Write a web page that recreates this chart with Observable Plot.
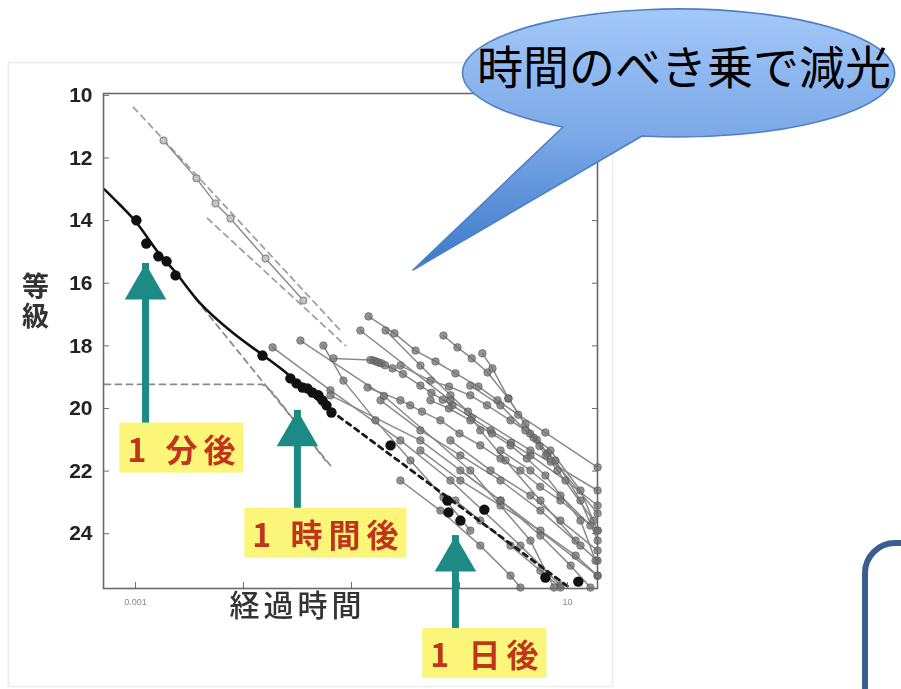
<!DOCTYPE html>
<html lang="ja">
<head>
<meta charset="utf-8">
<script src="https://cdn.jsdelivr.net/npm/d3@7"></script>
<script src="https://cdn.jsdelivr.net/npm/@observablehq/plot@0.6"></script>
<style>
  html, body { margin: 0; padding: 0; background: #fff; }
  #stage { position: relative; width: 901px; height: 689px; overflow: hidden; }
  #stage > svg { position: absolute; left: 0; top: 0; }
</style>
</head>
<body>
<div id="stage">
  <svg id="back" width="901" height="689">
    <rect x="8.5" y="62.5" width="604" height="624" fill="none" stroke="#ececec" stroke-width="1.5"/>
  </svg>
  <svg id="deco" width="901" height="689" style="pointer-events:none">
    <defs>
      <linearGradient id="bubbleFill" x1="0" y1="0" x2="0" y2="1">
        <stop offset="0" stop-color="#a4c8f9"/>
        <stop offset="0.5" stop-color="#7aa7e7"/>
        <stop offset="1" stop-color="#3a78c9"/>
      </linearGradient>
    </defs>
    <path d="M563,127 L413,270 L642,136 A216,64 0 1,0 563,127 Z"
          fill="url(#bubbleFill)" stroke="#4f80c4" stroke-width="1.6" stroke-linejoin="round"/>
    <text x="684" y="84" font-size="46" text-anchor="middle" fill="#000"
          font-family="'Noto Sans CJK JP', 'Noto Sans', sans-serif">時間のべき乗で減光</text>
    <rect x="865" y="543" width="120" height="300" rx="30" ry="30" fill="none" stroke="#3a5f8e" stroke-width="6"/>
  </svg>
</div>
<script>
// Elapsed time in days (log axis) against brightness in magnitudes (fainter = lower).
const yTicks = [10, 12, 14, 16, 18, 20, 22, 24];
const xTickLabels = [0.001, 10];
const xDecades = [0.001, 0.01, 0.1, 1, 10];

// Main burst: smooth early curve, its late power-law decay, and the measurements
const mainFit = [[0.000516, 13.00], [0.000726, 13.51], [0.00102, 14.06], [0.00163, 15.02], [0.00235, 15.65],
  [0.00400, 16.65], [0.00808, 17.60], [0.01436, 18.24], [0.02345, 18.79], [0.0337, 19.27], [0.0639, 20.06]];
const mainDecay = [[0.0639, 20.06], [10.7, 25.75]];
const mainPoints = [[0.00102, 13.99], [0.00126, 14.73], [0.00163, 15.14], [0.00194, 15.30], [0.00235, 15.75],
  [0.0150, 18.31], [0.0272, 19.04], [0.0310, 19.20], [0.0352, 19.33], [0.0391, 19.36], [0.0435, 19.49],
  [0.0495, 19.58], [0.0539, 19.74], [0.0587, 19.90], [0.0653, 20.13], [0.230, 21.18],
  [0.774, 22.94], [0.791, 23.32], [1.02, 23.58], [1.70, 23.23], [6.25, 25.40], [12.6, 25.53]];

// Dashed model curves
const earlyPowerLaw = [[0.00359, 16.49], [0.0639, 21.82]];
const plateauModel = [[0.000516, 19.23], [0.0150, 19.23], [0.0186, 19.49], [0.0574, 21.66]];
const brightModelA = [[0.000958, 10.38], [0.0791, 17.51]];
const brightModelB = [[0.00464, 13.93], [0.0880, 17.99]];

// Brightest comparison afterglow
const brightTrack = [[0.00182, 11.44], [0.00367, 12.65], [0.00551, 13.45], [0.00758, 13.93], [0.0160, 15.21], [0.0359, 16.55]];

// Other afterglows
const trackA = [[0.144, 17.06], [0.25, 17.6], [0.392, 18.15], [0.6, 18.5], [0.918, 18.88], [1.5, 19.3], [2.25, 19.74],
  [3.5, 20.2], [6.25, 20.77], [19.0, 21.88]];
const trackB = [[0.711, 17.67], [0.958, 18.05], [1.3, 18.4], [1.82, 18.85], [2.84, 19.68], [4.08, 20.5], [5.2, 21.0],
  [6.53, 21.44], [19.0, 23.35]];
const trackC = [[1.63, 18.24], [2.02, 18.72], [2.84, 19.68], [4.84, 20.93], [5.5, 21.2], [6.3, 21.5], [7.0, 21.7],
  [8.08, 21.98], [17.4, 23.58]];
const trackD = [[0.0681, 18.40], [0.150, 18.45], [0.160, 18.47], [0.170, 18.50], [0.178, 18.53], [0.190, 18.56], [0.205, 18.62],
  [0.240, 18.72], [0.30, 18.9], [0.435, 19.27], [0.55, 19.5], [0.70, 19.72], [0.861, 19.90], [1.3, 20.3], [1.94, 20.70],
  [3.0, 21.1], [4.54, 21.50], [9.58, 22.30], [19.0, 23.10]];
const trackE = [[0.0550, 17.99], [0.0843, 19.11], [0.167, 20.38], [0.352, 21.66], [0.711, 22.84], [1.26, 23.90]];
const trackF = [[0.0186, 18.05], [0.0639, 19.42], [0.284, 21.02], [0.826, 22.30], [3.67, 24.38], [8.61, 25.65]];
const trackG = [[0.141, 19.33], [0.284, 19.74], [0.35, 19.9], [0.45, 20.1], [0.666, 20.38], [1.0, 20.8], [1.56, 21.18],
  [2.4, 21.6], [3.67, 21.98], [5.6, 22.5], [8.61, 22.94], [19.0, 23.90]];
const trackH = [[0.207, 17.51], [0.435, 18.63], [0.826, 19.58], [1.2, 20.1], [1.56, 20.70], [2.67, 21.66], [5.62, 22.94],
  [11.9, 24.22]];
const trackI = [[0.284, 18.63], [0.539, 19.11], [0.8, 19.3], [1.26, 19.58], [1.8, 19.9], [2.97, 20.38], [4.5, 20.8],
  [6.96, 21.34], [13.2, 22.62], [19.0, 23.90]];
const trackJ = [[0.186, 19.74], [0.435, 20.70], [1.02, 21.50], [2.40, 22.30], [5.62, 23.26], [13.2, 24.38], [19.0, 24.86]];
const trackK = [[0.435, 21.34], [1.02, 22.30], [2.40, 23.10], [5.62, 23.90], [11.9, 24.70], [19.0, 25.34]];
const trackL = [[0.539, 19.74], [0.8, 20.0], [1.26, 20.38], [2.0, 20.8], [2.97, 21.18], [4.2, 21.6], [6.25, 22.14],
  [13.2, 23.58], [18.2, 24.86]];
const trackM = [[0.826, 21.02], [1.94, 21.98], [4.54, 22.78], [8.61, 23.58], [19.0, 24.54]];
const trackN = [[1.02, 21.98], [2.40, 22.94], [5.62, 24.06], [10.7, 25.02], [16.3, 25.72]];
const trackO = [[0.284, 22.30], [0.666, 23.26], [1.56, 24.38], [2.97, 25.34], [3.67, 25.72]];
const trackP = [[2.40, 21.34], [4.54, 21.98], [8.61, 22.78], [16.3, 23.74]];
const trackQ = [[0.918, 22.94], [1.56, 23.58], [2.97, 24.38], [5.62, 25.18], [8.61, 25.72]];
const trackR = [[1.26, 19.27], [2.40, 19.90], [4.08, 20.70], [7.74, 21.66], [13.2, 22.94], [19.0, 24.22]];
const trackS = [[0.0639, 19.58], [0.435, 21.02], [2.40, 22.94], [19.0, 25.34]];
const trackT = [[0.0337, 17.83], [0.2, 19.6], [1.26, 21.98], [4.54, 24.22], [7.5, 25.72]];
const trackU = [[0.121, 17.51], [0.826, 19.74], [4.54, 21.34], [19.0, 22.62]];

// Annotations: arrows pointing at elapsed times, and their captions
const markerTimes = [0.00124, 0.0316, 0.918];
const markerTips = [15.37, 20.06, 24.06];
const markerTails = [20.54, 23.26, 27.19];
const captionTexts = ["1 分後", "1 時間後", "1 日後"];
const captionTimes = [0.00267, 0.0574, 1.70];
const captionMags = [21.37, 24.09, 27.93];
const yTitle = "等級";
const xTitle = "経過時間";

const tracks = [trackA, trackB, trackC, trackD, trackE, trackF, trackG, trackH, trackI, trackJ, trackK,
  trackL, trackM, trackN, trackO, trackP, trackQ, trackR, trackS, trackT, trackU];
const trackRows = tracks.flatMap((pts, id) => pts.map(([t, m]) => ({id, t, m})));
const markerIdx = d3.range(markerTimes.length);
const captionIdx = d3.range(captionTexts.length);

const px = d => d[0], py = d => d[1];
const teal = "#1e8a85";
const gray = "#8a8a8a";
const cjk = "'Noto Sans CJK JP', sans-serif";

const chart = Plot.plot({
  width: 901,
  height: 689,
  marginLeft: 103,
  marginRight: 304,
  marginTop: 93,
  marginBottom: 101,
  style: {fontFamily: "'Liberation Sans', 'Noto Sans CJK JP', sans-serif", background: "transparent", overflow: "visible"},
  x: {type: "log", domain: [0.000506, 18.97]},
  y: {domain: [9.94, 25.75], reverse: true},
  marks: [
    // dashed model curves
    Plot.line(brightModelA, {x: px, y: py, stroke: "#a0a0a0", strokeWidth: 1.8, strokeDasharray: "6,5"}),
    Plot.line(brightModelB, {x: px, y: py, stroke: "#a0a0a0", strokeWidth: 1.8, strokeDasharray: "6,5"}),
    Plot.line(earlyPowerLaw, {x: px, y: py, stroke: "#8a8a8a", strokeWidth: 1.8, strokeDasharray: "6,5"}),
    Plot.line(plateauModel, {x: px, y: py, stroke: "#8a8a8a", strokeWidth: 1.8, strokeDasharray: "6,5"}),
    // comparison afterglows
    Plot.line(trackRows, {x: "t", y: "m", z: "id", stroke: gray, strokeWidth: 1.5}),
    Plot.dot(trackRows, {x: "t", y: "m", r: 3.8, fill: "#707070", fillOpacity: 0.75, stroke: "#505050", strokeWidth: 0.8, strokeOpacity: 0.7}),
    Plot.line(brightTrack, {x: px, y: py, stroke: gray, strokeWidth: 1.4}),
    Plot.dot(brightTrack, {x: px, y: py, r: 3.4, fill: "#c4c4c4", stroke: "#8a8a8a", strokeWidth: 1.2}),
    // main burst
    Plot.line(mainFit, {x: px, y: py, curve: "catmull-rom", stroke: "#111", strokeWidth: 2.6}),
    Plot.line(mainDecay, {x: px, y: py, stroke: "#1a1a1a", strokeWidth: 2.8, strokeDasharray: "5,5"}),
    Plot.dot(mainPoints, {x: px, y: py, r: 5.2, fill: "#111"}),
    // frame and ticks
    Plot.frame({stroke: "#6a6a6a", strokeWidth: 1.6}),
    Plot.axisY(yTicks, {anchor: "left", tickSize: 0, tickPadding: 11, fontSize: 21, fontWeight: "bold", fill: "#222", label: null}),
    Plot.axisY(yTicks, {anchor: "left", tickSize: -6, fill: "none", stroke: "#6a6a6a", label: null}),
    Plot.axisY(yTicks, {anchor: "right", tickSize: -6, fill: "none", stroke: "#6a6a6a", label: null}),
    Plot.axisX(xDecades, {anchor: "bottom", tickSize: -6, fill: "none", stroke: "#6a6a6a", label: null}),
    Plot.axisX(xTickLabels, {anchor: "bottom", tickSize: 0, tickPadding: 10, fontSize: 9, fill: "#888",
      tickFormat: d => String(d), label: null}),
    // y title, set upright in a vertical column after layout
    Plot.text([yTitle], {frameAnchor: "left", textAnchor: "middle", dx: -68, dy: -47,
      fontSize: 27, fontWeight: "bold", fill: "#333", fontFamily: cjk}),
    Plot.text([xTitle], {frameAnchor: "bottom", textAnchor: "middle", dx: -53, dy: 27, fontSize: 30, fontWeight: 500,
      fill: "#333", fontFamily: cjk}),
    // arrows
    Plot.ruleX(markerIdx, {x: i => markerTimes[i], y1: i => markerTails[i], y2: i => markerTips[i],
      stroke: teal, strokeWidth: 7, insetTop: 14}),
    Plot.dot(markerIdx, {x: i => markerTimes[i], y: i => markerTips[i], symbol: "triangle", r: 15.4, dy: 24,
      fill: teal, stroke: "none"}),
    // captions (yellow boxes are added behind them after layout)
    Plot.text(captionIdx, {x: i => captionTimes[i], y: i => captionMags[i], text: i => captionTexts[i],
      dx: 3, fontSize: 32, fontWeight: "bold", fill: "#c0361c", fontFamily: cjk})
  ]
});

chart.style.filter = "blur(0.4px)";
const stage = document.getElementById("stage");
stage.insertBefore(chart, document.getElementById("deco"));

const texts = d3.select(chart).selectAll("text");

// Vertical, upright y title
texts.filter(function () { return this.textContent === yTitle; })
  .attr("writing-mode", "vertical-rl")
  .attr("letter-spacing", 3)
  .attr("dy", null);

// Wider letter spacing for the x title
texts.filter(function () { return this.textContent === xTitle; })
  .attr("letter-spacing", 4);

// Yellow backing boxes sized to each caption (same transform as the caption text)
const spacing = 6;
texts.filter(function () { return captionTexts.includes(this.textContent); })
  .attr("letter-spacing", spacing)
  .each(function () {
    const b = this.getBBox();
    const padX = 8, h = 50;
    const cy = b.y + b.height / 2;
    d3.select(this.parentNode).insert("rect", () => this)
      .attr("transform", this.getAttribute("transform"))
      .attr("x", b.x - padX)
      .attr("y", cy - h / 2)
      .attr("width", b.width - spacing + 2 * padX)
      .attr("height", h)
      .attr("fill", "#fbf57a");
  });
</script>
</body>
</html>
